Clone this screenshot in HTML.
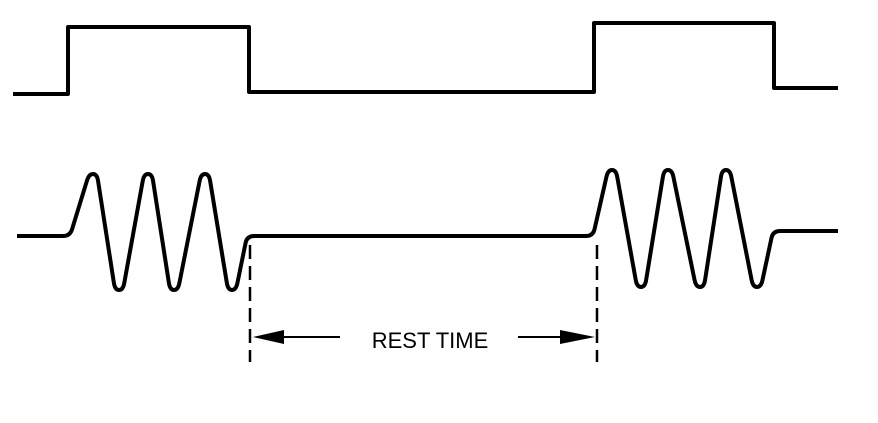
<!DOCTYPE html>
<html><head><meta charset="utf-8"><style>
html,body{margin:0;padding:0;background:#fff;}
svg{display:block}
text{font-family:"Liberation Sans",sans-serif;}
</style></head><body>
<svg id="c" width="878" height="423" viewBox="0 0 878 423">
<g id="g" fill="none" stroke="#000" stroke-width="4" stroke-linecap="butt"></g>
<text x="430" y="348" font-size="22" text-anchor="middle" fill="#000">REST TIME</text>
</svg>
<script>
const squareWave=[[13,94],[68,94],[68,27],[249,27],[249,92],[594,92],[594,23],[774,23],[774,88],[838,88]];
const burstWave=[[17,236],[70,236],[93,174],[119,290],[148,174],[174,290],[205,174],[232,290],[247,236],[593,236],[612,170],[641,287],[668,170],[700,287],[726,170],[757,287],[773,231],[838,231]];
const g=document.getElementById('g');
const NS='http://www.w3.org/2000/svg';
function roundedPath(pts,r){
  let d='M'+pts[0][0]+' '+pts[0][1];
  for(let i=1;i<pts.length-1;i++){
    const p=pts[i],a=pts[i-1],b=pts[i+1];
    const la=Math.hypot(p[0]-a[0],p[1]-a[1]),lb=Math.hypot(b[0]-p[0],b[1]-p[1]);
    const ra=Math.min(r,la/2),rb=Math.min(r,lb/2);
    const x1=p[0]+(a[0]-p[0])/la*ra,y1=p[1]+(a[1]-p[1])/la*ra;
    const x2=p[0]+(b[0]-p[0])/lb*rb,y2=p[1]+(b[1]-p[1])/lb*rb;
    d+=' L'+x1+' '+y1+' Q'+p[0]+' '+p[1]+' '+x2+' '+y2;
  }
  const l=pts[pts.length-1];d+=' L'+l[0]+' '+l[1];return d;
}
// expand oscillation extremes into small flat tops for rounded U-shaped peaks
function widen(pts){
  const out=[pts[0]];
  for(let i=1;i<pts.length-1;i++){
    const p=pts[i],a=pts[i-1],b=pts[i+1];
    const isExt=(p[1]<a[1]&&p[1]<b[1])||(p[1]>a[1]&&p[1]>b[1]);
    if(isExt){out.push([p[0]-4,p[1]]);out.push([p[0]+4,p[1]]);}
    else out.push(p);
  }
  out.push(pts[pts.length-1]);return out;
}
const sq=document.createElementNS(NS,'path');
sq.setAttribute('d',roundedPath(squareWave,0.1));


g.appendChild(sq);
const bw=document.createElementNS(NS,'path');
bw.setAttribute('d',roundedPath(widen(burstWave),7));
bw.setAttribute('stroke-linejoin','round');


g.appendChild(bw);
[250,597].forEach(x=>{
  const l=document.createElementNS(NS,'line');
  l.setAttribute('x1',x);l.setAttribute('x2',x);l.setAttribute('y1',245);l.setAttribute('y2',362);
  l.setAttribute('stroke-dasharray','14 7');l.setAttribute('stroke-width','2.5');
  
  
  g.appendChild(l);
});
const arrows=[[340,284,253],[518,560,595]];
arrows.forEach(a=>{
  const l=document.createElementNS(NS,'line');
  l.setAttribute('x1',a[0]);l.setAttribute('x2',a[1]);l.setAttribute('y1',337);l.setAttribute('y2',337);
  l.setAttribute('stroke-width','2');
  
  
  g.appendChild(l);
  const h=document.createElementNS(NS,'polygon');
  h.setAttribute('points',a[2]+',337 '+a[1]+',330 '+a[1]+',344');
  h.setAttribute('fill','#000');h.setAttribute('stroke','none');
  
  
  g.appendChild(h);
});
</script>
</body></html>
